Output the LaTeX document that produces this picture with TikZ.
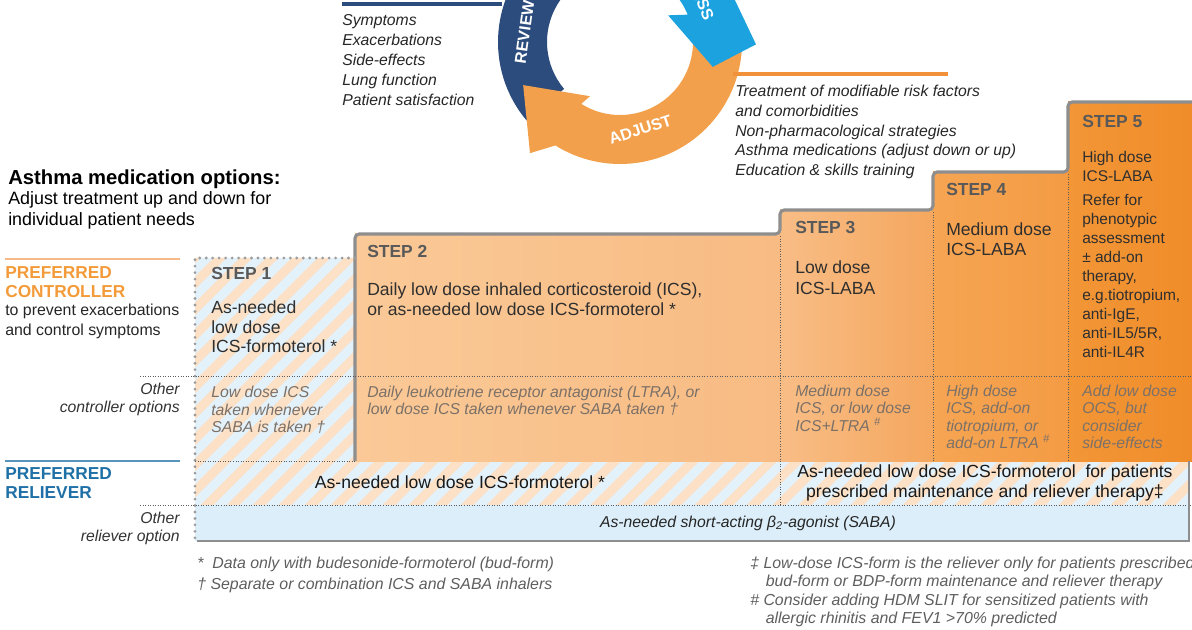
\documentclass[tikz,border=0pt]{standalone}
\usepackage{fontspec}
\setmainfont{Liberation Sans}
\definecolor{navy}{HTML}{2D4C7E}
\definecolor{skyblue}{HTML}{1CA2DE}
\definecolor{adjorange}{HTML}{F2A04C}
\definecolor{lineorange}{HTML}{F1923A}
\definecolor{ctrlorange}{HTML}{F39B3A}
\definecolor{ctrlline}{HTML}{F6B987}
\definecolor{relblue}{HTML}{1F70A6}
\definecolor{relline}{HTML}{5893BC}
\definecolor{stairgrey}{HTML}{8E8E8E}
\definecolor{dotgrey}{HTML}{9C9C9C}
\definecolor{sepgrey}{HTML}{5C5C5C}
\definecolor{labgrey}{HTML}{595959}
\definecolor{maingrey}{HTML}{2F2F2F}
\definecolor{othgrey}{HTML}{7C7168}
\definecolor{notegrey}{HTML}{5E5E5E}
\definecolor{hatchblue}{HTML}{E3F1FA}
\definecolor{hatchorange}{HTML}{FCE1C6}
\definecolor{sababg}{HTML}{DCEEF9}
\definecolor{stepbl}{HTML}{FAC997}
\definecolor{stepbr}{HTML}{F8BB83}
\definecolor{stepcl}{HTML}{F8BD86}
\definecolor{stepcr}{HTML}{F5A75E}
\definecolor{stepdl}{HTML}{F6A553}
\definecolor{stepdr}{HTML}{F49B44}
\definecolor{stepel}{HTML}{F29637}
\definecolor{steper}{HTML}{F08C29}

\begin{document}
\begin{tikzpicture}
    [x=0.025cm, y=-0.025cm,
    steplabel/.style={anchor=north west, inner sep=0pt, text=labgrey,
        font=\bfseries\fontsize{12.4}{14}\selectfont},
    maintext/.style={anchor=north west, inner sep=0pt, align=left, text=maingrey,
        font=\fontsize{12.5}{14.2}\selectfont},
    othertext/.style={anchor=north west, inner sep=0pt, align=left, text=othgrey,
        font=\itshape\fontsize{11.2}{12.2}\selectfont},
    listtext/.style={anchor=north west, inner sep=0pt, align=left, text=black!85,
        font=\itshape\fontsize{11.2}{14.3}\selectfont},
    notetext/.style={anchor=north west, inner sep=0pt, align=left, text=notegrey,
        font=\itshape\fontsize{11.3}{12.8}\selectfont},
    rowhead/.style={anchor=north west, inner sep=0pt, align=left,
        font=\bfseries\fontsize{12.3}{13.5}\selectfont},
    rowtext/.style={inner sep=0pt, align=left, text=black!85,
        font=\fontsize{11.3}{14.2}\selectfont},
    rowother/.style={anchor=north east, inner sep=0pt, align=right, text=black!80,
        font=\itshape\fontsize{11.2}{12.4}\selectfont},
    cyclelabel/.style={text=white, font=\bfseries\fontsize{11.5}{12}\selectfont},
    sepline/.style={sepgrey, line width=0.7pt, dash pattern=on 0.7pt off 1.1pt},
    dotborder/.style={dotgrey, line width=2.2pt, line cap=round, dash pattern=on 0pt off 4.6pt},
    stairline/.style={stairgrey, line width=2.2pt, rounded corners=3pt}]

    \path[use as bounding box] (0,0) rectangle (1192,630);
    \clip (0,0) rectangle (1192,630);

    \begin{scope}[shift={(620,42)}]
        \fill[navy] (140:122) arc[start angle=140, end angle=300, radius=122]
            -- (300:73) arc[start angle=300, end angle=140, radius=73] -- cycle;
        \fill[adjorange] (-8:122) arc[start angle=-8, end angle=122, radius=122]
            -- (129:143) -- (156:106) -- (119:62) -- (122:73)
            arc[start angle=122, end angle=-8, radius=73] -- cycle;
        \fill[skyblue] (262:122) arc[start angle=262, end angle=338, radius=122]
            -- (1:136) -- (15:96) -- (-29:55) -- (338:73)
            arc[start angle=338, end angle=262, radius=73] -- cycle;
        \node[cyclelabel, rotate=82] (review) at (186:96) {REVIEW};
        \node[cyclelabel, rotate=18] (adjust) at (77:90) {ADJUST};
        \node[cyclelabel, rotate=-68] (assess) at (-34.5:93.5) {ASSESS};
    \end{scope}

    \draw[navy, line width=2.2pt] (342,4) -- (502,4);
    \node[listtext] (reviewlist) at (342,14) {Symptoms\\Exacerbations\\Side-effects\\Lung function\\Patient satisfaction};
    \draw[lineorange, line width=2.2pt] (733,74) -- (948,74);
    \node[listtext, font=\itshape\fontsize{11.2}{14}\selectfont] (adjustlist) at (735,85)
        {Treatment of modifiable risk factors\\and comorbidities\\Non-pharmacological strategies\\Asthma medications (adjust down or up)\\Education \& skills training};

    \node[anchor=north west, inner sep=0pt, font=\bfseries\fontsize{14.4}{16}\selectfont] (options) at (8,170)
        {Asthma medication options:};
    \node[anchor=north west, inner sep=0pt, align=left, font=\fontsize{12.7}{15}\selectfont] (optionsub) at (8,191.5)
        {Adjust treatment up and down for\\individual patient needs};

    % controller and reliever rows
    \fill[hatchblue] (195,258) -- (355,258) -- (355,461) -- (1189,461) -- (1189,505) -- (195,505) -- cycle;
    \begin{scope}
        \clip (195,258) -- (355,258) -- (355,461) -- (1189,461) -- (1189,505) -- (195,505) -- cycle;
        \foreach \x in {-120,-94,...,1200}
            \draw[hatchorange, line width=6.5pt] (\x,520) -- (\x+280,240);
    \end{scope}
    \fill[sababg] (195,505) rectangle (1189,541);

    \fill[left color=stepbl, right color=stepbr] (355,234) rectangle (780,461);
    \fill[left color=stepcl, right color=stepcr] (780,210) rectangle (933,461);
    \fill[left color=stepdl, right color=stepdr] (933,172) rectangle (1068,461);
    \fill[left color=stepel, right color=steper] (1068,102) rectangle (1200,461);

    \draw[stairline] (355,461) -- (355,234) -- (780,234) -- (780,210) -- (933,210)
        -- (933,172) -- (1068,172) -- (1068,102) -- (1200,102);
    \draw[dotborder] (355,258) -- (195,258) -- (195,541);

    \draw[sepline] (140,376) -- (1192,376);
    \draw[sepline] (195,461) -- (355,461);
    \draw[sepline] (140,505) -- (1192,505);
    \draw[sepline] (780,236) -- (780,505);
    \draw[sepline] (933,212) -- (933,461);
    \draw[sepline] (1068,174) -- (1068,461);
    \draw[stairgrey, line width=2pt] (197,541) -- (1189,541) -- (1189,461);

    \draw[ctrlline, line width=1.4pt] (5,259) -- (180,259);
    \node[rowhead, text=ctrlorange] (ctrl) at (5,266) {PREFERRED\\CONTROLLER};
    \node[rowtext, anchor=north west] (ctrlsub) at (5,303.5) {to prevent exacerbations\\and control symptoms};
    \node[rowother] (ctrlother) at (180,383) {Other\\controller options};
    \draw[relline, line width=1.4pt] (5,461) -- (180,461);
    \node[rowhead, text=relblue] (rel) at (5,467) {PREFERRED\\RELIEVER};
    \node[rowother] (relother) at (180,512) {Other\\reliever option};

    % steps
    \node[steplabel] (s1) at (211,267) {STEP 1};
    \node[steplabel] (s2) at (367,245) {STEP 2};
    \node[steplabel] (s3) at (795,221) {STEP 3};
    \node[steplabel] (s4) at (946,183) {STEP 4};
    \node[steplabel] (s5) at (1082,115) {STEP 5};

    \node[maintext, font=\fontsize{12.5}{13.9}\selectfont] (s1main) at (211,300.5)
        {As-needed\\low dose\\ICS-formoterol *};
    \node[maintext] (s2main) at (367,282.5)
        {Daily low dose inhaled corticosteroid (ICS),\\or as-needed low dose ICS-formoterol *};
    \node[maintext, font=\fontsize{12.5}{14.9}\selectfont] (s3main) at (795,260.5) {Low dose\\ICS-LABA};
    \node[maintext] (s4main) at (946,222.5) {Medium dose\\ICS-LABA};
    \node[maintext, font=\fontsize{11}{13.5}\selectfont] (s5main) at (1082,151.5) {High dose\\ICS-LABA};
    \node[maintext, font=\fontsize{11}{13.5}\selectfont] (s5refer) at (1082,194.5)
        {Refer for\\phenotypic\\assessment\\± add-on\\therapy,\\e.g.tiotropium,\\anti-IgE,\\anti-IL5/5R,\\anti-IL4R};

    \node[othertext, font=\itshape\fontsize{11.2}{12.4}\selectfont] (s1other) at (211,386)
        {Low dose ICS\\taken whenever\\SABA is taken †};
    \node[othertext] (s2other) at (367,386)
        {Daily leukotriene receptor antagonist (LTRA), or\\low dose ICS taken whenever SABA taken †};
    \node[othertext] (s3other) at (795,385) {Medium dose\\ICS, or low dose\\ICS+LTRA \textsuperscript{\#}};
    \node[othertext] (s4other) at (946,385) {High dose\\ICS, add-on\\tiotropium, or\\add-on LTRA \textsuperscript{\#}};
    \node[othertext] (s5other) at (1082,385) {Add low dose\\OCS, but\\consider\\side-effects};

    \node[maintext, anchor=center, text=black!90] (relfirst) at (460,482) {As-needed low dose ICS-formoterol *};
    \node[maintext, anchor=center, align=center, text=black!90] (relmart) at (985,483)
        {As-needed low dose ICS-formoterol\ \ for patients\\prescribed maintenance and reliever therapy‡};
    \node[othertext, anchor=center, text=black!85] (saba) at (748,523)
        {As-needed short-acting \textit{β}\textsubscript{2}-agonist (SABA)};

    % footnotes
    \node[notetext] (fnstar) at (197,557) {*\ \ Data only with budesonide-formoterol (bud-form)};
    \node[notetext] (fndagger) at (197,578) {† Separate or combination ICS and SABA inhalers};
    \node[notetext] (fnddagger) at (750,557)
        {‡ Low-dose ICS-form is the reliever only for patients prescribed\\\hspace*{11pt}bud-form or BDP-form maintenance and reliever therapy};
    \node[notetext] (fnhash) at (750,594)
        {\# Consider adding HDM SLIT for sensitized patients with\\\hspace*{11pt}allergic rhinitis and FEV1 >70\% predicted};

\end{tikzpicture}
\end{document}
